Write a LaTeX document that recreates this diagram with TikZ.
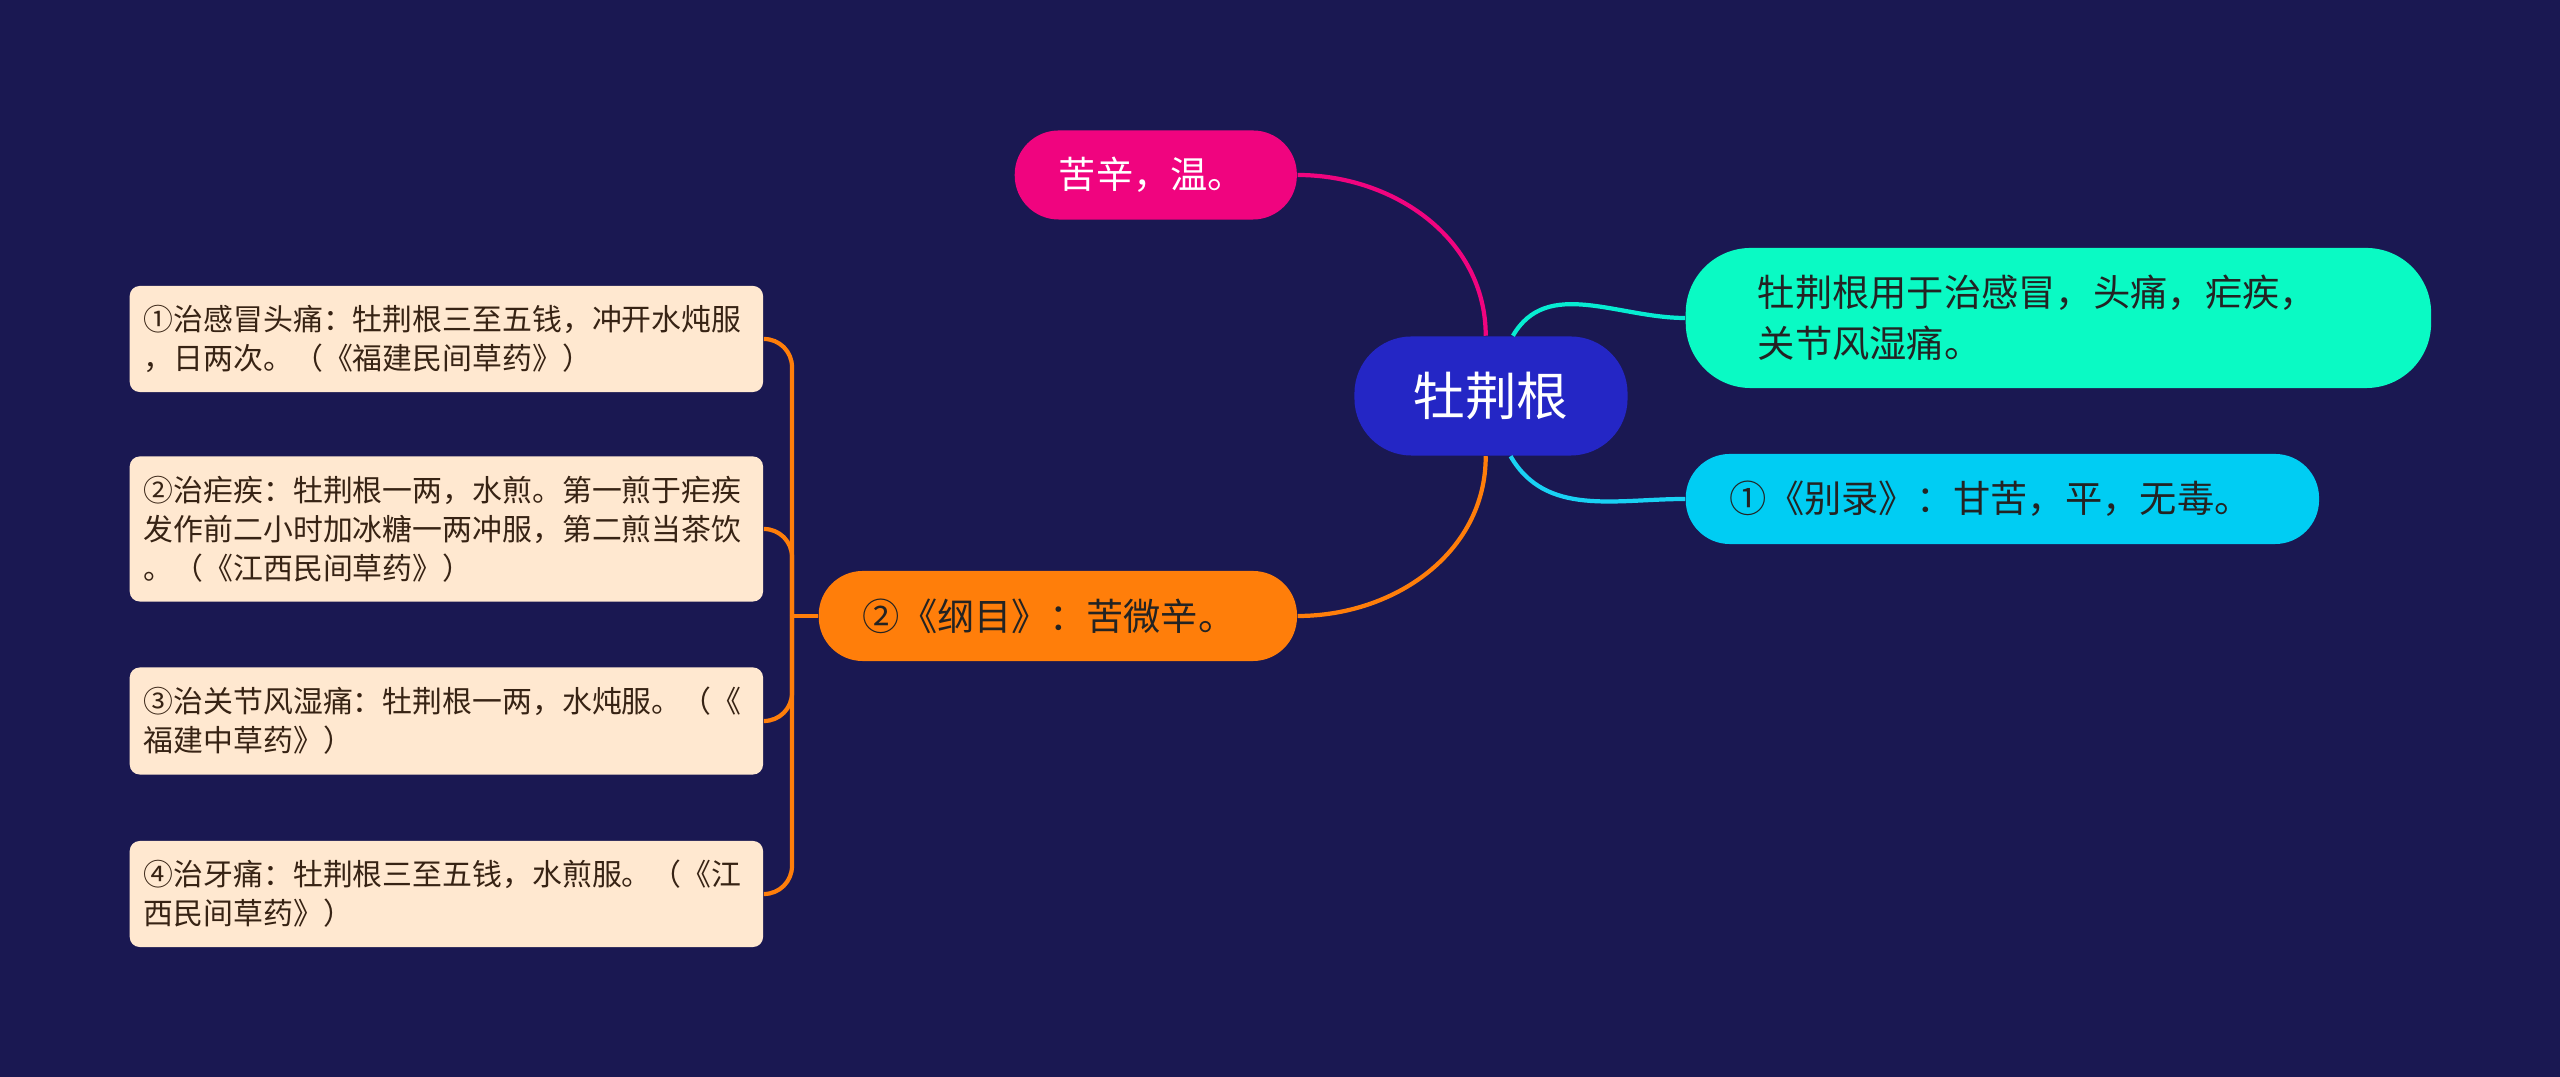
\documentclass[tikz,border=0pt]{standalone}
\usepackage{fontspec}
\setmainfont{Noto Sans CJK SC}
\usetikzlibrary{positioning}
\definecolor{MapNight}{RGB}{26,24,82}
\definecolor{MapBlue}{RGB}{36,38,197}
\definecolor{MapPink}{RGB}{240,4,127}
\definecolor{MapMint}{RGB}{10,250,196}
\definecolor{MapSky}{RGB}{0,205,243}
\definecolor{MapOrange}{RGB}{255,126,10}
\definecolor{MapPeach}{RGB}{255,232,208}
\definecolor{MapInk}{RGB}{35,35,35}
\definecolor{MapBrown}{RGB}{55,35,20}

\begin{document}
\begin{tikzpicture}[x=0.01cm, y=-0.01cm,
      root/.style={rectangle, rounded corners=0.57cm, fill=MapBlue, text=white,
                   minimum width=2.73cm, minimum height=1.19cm,
                   font=\fontsize{14.7pt}{18pt}\selectfont},
      topic/.style={rectangle, rounded corners=0.44cm, anchor=west,
                    inner xsep=0.44cm, inner ysep=0pt, align=left,
                    minimum height=0.9cm, text=MapInk,
                    font=\fontsize{10.6pt}{14.4pt}\selectfont},
      leaf/.style={rectangle, rounded corners=0.1cm, anchor=west, fill=MapPeach,
                   text=MapBrown, text width=6.05cm, inner xsep=0.14cm,
                   inner ysep=0pt, align=left,
                   font=\fontsize{8.5pt}{11.1pt}\selectfont},
      link/.style={line width=1.2pt}
    ]
    \fill[MapNight] (0,0) rectangle (2560,1077);

    \node[root] (gen) at (1491,396) {牡荆根};
    \node[topic, fill=MapPink, text=white, text width=1.94cm,
          minimum height=0.89cm] (taste) at (1014,175) {苦辛，温。};
    \node[topic, fill=MapMint, rounded corners=0.65cm, inner xsep=0.72cm,
          text width=6.01cm, minimum height=1.40cm] (use) at (1685,318)
          {牡荆根用于治感冒，头痛，疟疾，\\关节风湿痛。};
    \node[topic, fill=MapSky, text width=5.45cm] (bielu) at (1685,499)
          {①《别录》：甘苦，平，无毒。};
    \node[topic, fill=MapOrange, text width=3.90cm] (gangmu) at (818,616)
          {②《纲目》：苦微辛。};

    % prescriptions
    \node[leaf, minimum height=1.06cm] (rx1) at (129,339)
          {①治感冒头痛：牡荆根三至五钱，冲开水炖服\\，日两次。（《福建民间草药》）};
    \node[leaf, minimum height=1.45cm] (rx2) at (129,529)
          {②治疟疾：牡荆根一两，水煎。第一煎于疟疾\\发作前二小时加冰糖一两冲服，第二煎当茶饮\\。（《江西民间草药》）};
    \node[leaf, minimum height=1.07cm] (rx3) at (129,721)
          {③治关节风湿痛：牡荆根一两，水炖服。（《\\福建中草药》）};
    \node[leaf, minimum height=1.06cm] (rx4) at (129,894)
          {④治牙痛：牡荆根三至五钱，水煎服。（《江\\西民间草药》）};

    % branches
    \draw[link, MapPink] (taste.east) to[out=0, in=90] (gen.95);
    \draw[link, MapMint!70!MapSky] (gen.70) to[out=60, in=180] (use.west);
    \draw[link, MapSky!90!white] (gen.-72) to[out=-60, in=180] (bielu.west);
    \draw[link, MapOrange] (gen.-95) to[out=-90, in=0] (gangmu.east);

    \coordinate (fork) at (792,616);
    \draw[link, MapOrange] (gangmu.west) -- (fork);
    \foreach \rx in {rx1, rx2, rx3, rx4}
      \draw[link, MapOrange, rounded corners=0.28cm] (fork) |- (\rx.east);
  \end{tikzpicture}
\end{document}
